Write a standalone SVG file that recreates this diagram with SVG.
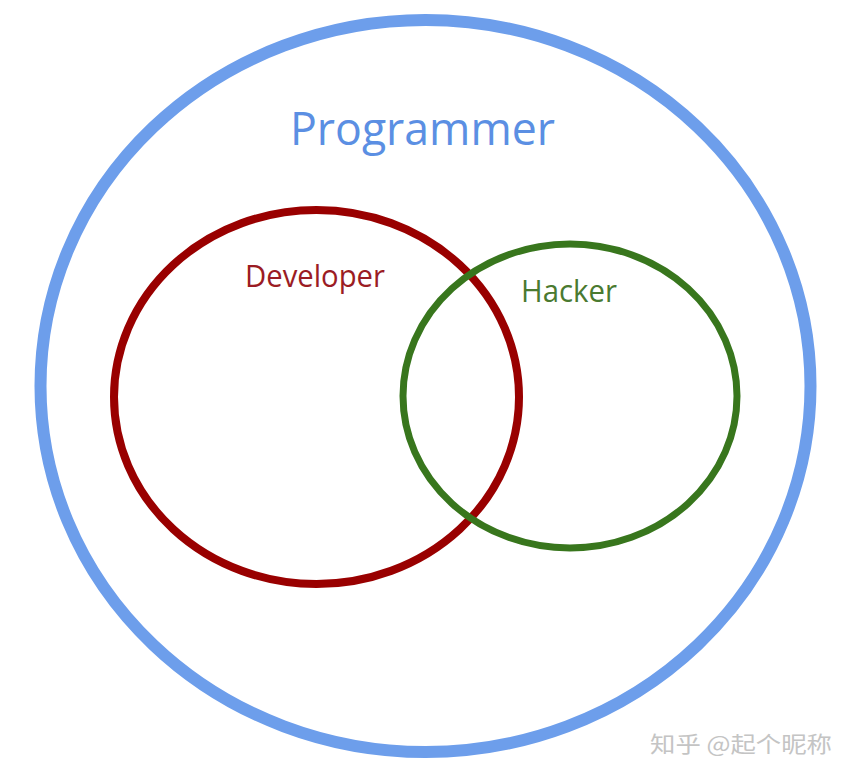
<svg xmlns="http://www.w3.org/2000/svg" width="855" height="776" viewBox="0 0 855 776">
<style>
.ring{fill:none}
.lbl{font-family:"Open Sans","Liberation Sans",sans-serif}
</style>
<rect width="855" height="776" fill="#ffffff"/>
<g id="programmer">
<ellipse class="ring" cx="425.5" cy="386" rx="385" ry="366" stroke="#6d9eeb" stroke-width="12"/>
<text class="lbl" x="290" y="145" font-size="46" fill="#5b8fe3" textLength="265" lengthAdjust="spacingAndGlyphs">Programmer</text>
</g>
<g id="developer">
<ellipse class="ring" cx="316.5" cy="397" rx="202.5" ry="187" stroke="#990000" stroke-width="8"/>
<text class="lbl" x="245" y="287" font-size="31" fill="#9b1c24" textLength="140" lengthAdjust="spacingAndGlyphs">Developer</text>
</g>
<g id="hacker">
<ellipse class="ring" cx="570" cy="396" rx="167" ry="152" stroke="#38761d" stroke-width="7"/>
<text class="lbl" x="521" y="302" font-size="31" fill="#4a7a30" textLength="96" lengthAdjust="spacingAndGlyphs">Hacker</text>
</g>
<g id="connectors"></g>
<text x="650" y="752" font-family="'Noto Sans CJK SC',sans-serif" font-size="22" fill="#c4c4c4" textLength="182" lengthAdjust="spacingAndGlyphs">知乎 @起个昵称</text>
</svg>
